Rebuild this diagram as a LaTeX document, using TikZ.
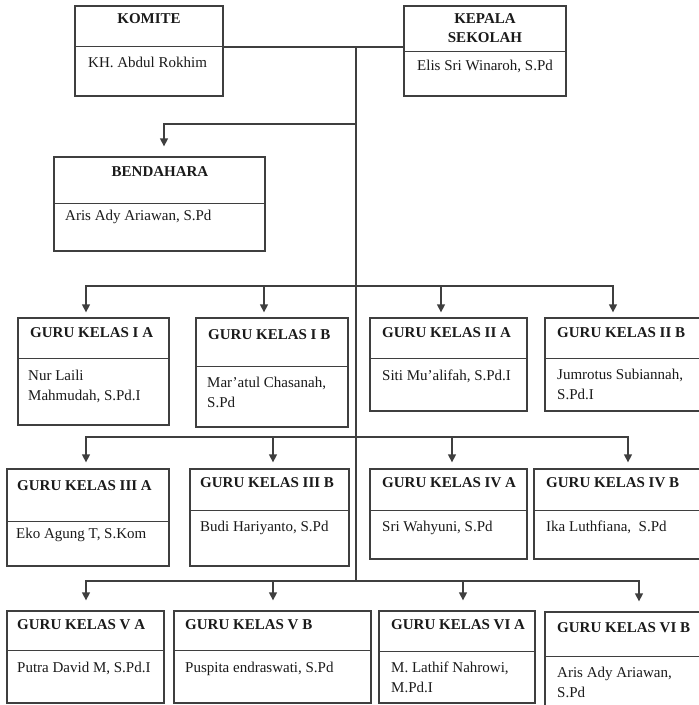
\documentclass[tikz,border=0pt]{standalone}
\usepackage{fontspec}
\setmainfont{Liberation Serif}
\usepackage{tikz}
\usetikzlibrary{arrows.meta,calc,fit,positioning}
\definecolor{orgline}{HTML}{3F3F3F}
\definecolor{orgtext}{HTML}{1A1A1A}

\begin{document}
\begin{tikzpicture}[x=1pt, y=-1pt,
  unit/.style={draw=orgline, line width=1.3pt, inner sep=0pt},
  rule/.style={draw=orgline, line width=1.3pt},
  wire/.style={draw=orgline, line width=1.3pt},
  arrow/.style={wire, -{Triangle[length=8pt,width=8pt]}},
  head/.style={font=\fontsize{15}{19}\selectfont\bfseries, text=orgtext,
               inner sep=0pt},
  who/.style={font=\fontsize{15}{20}\selectfont, text=orgtext, align=left,
              inner sep=0pt, anchor=north west},
]
  \useasboundingbox (0,0) rectangle (699,705);
  \clip (0,0) rectangle (699,705);

  % Leadership.
  \node[unit, fit={(75,6) (223,96)}] (komite) {};
  \draw[rule] ([yshift=-41pt]komite.north west) -- ([yshift=-41pt]komite.north east);
  \node[head, anchor=base] (komitehead) at (149,23) {KOMITE};
  \node[who] (komitename) at (88,57) {KH. Abdul Rokhim};

  \node[unit, fit={(404,6) (566,96)}] (kepala) {};
  \draw[rule] ([yshift=-46pt]kepala.north west) -- ([yshift=-46pt]kepala.north east);
  \node[head, anchor=north, align=center] (kepalahead) at (485,13) {KEPALA\\SEKOLAH};
  \node[who] (kepalaname) at (417,60) {Elis Sri Winaroh, S.Pd};

  \node[unit, fit={(54,157) (265,251)}] (bendahara) {};
  \draw[rule] ([yshift=-47pt]bendahara.north west) -- ([yshift=-47pt]bendahara.north east);
  \node[head, anchor=base] (bendaharahead) at (160,176) {BENDAHARA};
  \node[who] (bendaharaname) at (65,210) {Aris Ady Ariawan, S.Pd};

  \coordinate (hub) at (356,47);
  \coordinate (jb) at (356,124);
  \coordinate (bus1) at (356,286);
  \coordinate (bus2) at (356,437);
  \coordinate (bus3) at (356,581);
  \draw[wire] ([yshift=4pt]komite.east) -- ([yshift=4pt]kepala.west);
  \draw[wire] (hub) -- (bus3);
  \draw[arrow, shorten >=10pt] (jb) -| ([xshift=4.5pt]bendahara.north);

  % Guru kelas I and II.
  \node[unit, fit={(18,318) (169,425)}] (ia) {};
  \draw[rule] ([yshift=-41pt]ia.north west) -- ([yshift=-41pt]ia.north east);
  \node[head, anchor=base west] (iahead) at (30,337) {GURU KELAS I A};
  \node[who] (ianame) at (28,370) {Nur Laili\\Mahmudah, S.Pd.I};

  \node[unit, fit={(196,318) (348,427)}] (ib) {};
  \draw[rule] ([yshift=-49pt]ib.north west) -- ([yshift=-49pt]ib.north east);
  \node[head, anchor=base west] (ibhead) at (208,339) {GURU KELAS I B};
  \node[who] (ibname) at (207,377) {Mar’atul Chasanah,\\S.Pd};

  \node[unit, fit={(370,318) (527,411)}] (iia) {};
  \draw[rule] ([yshift=-41pt]iia.north west) -- ([yshift=-41pt]iia.north east);
  \node[head, anchor=base west] (iiahead) at (382,337) {GURU KELAS II A};
  \node[who] (iianame) at (382,370) {Siti Mu’alifah, S.Pd.I};

  \node[unit, fit={(545,318) (702,411)}] (iib) {};
  \draw[rule] ([yshift=-41pt]iib.north west) -- ([yshift=-41pt]iib.north east);
  \node[head, anchor=base west] (iibhead) at (557,337) {GURU KELAS II B};
  \node[who] (iibname) at (557,369) {Jumrotus Subiannah,\\S.Pd.I};

  \draw[arrow, shorten >=5pt] (bus1) -| ([xshift=-7.5pt]ia.north);
  \draw[arrow, shorten >=5pt] (bus1) -| ([xshift=-8pt]ib.north);
  \draw[arrow, shorten >=5pt] (bus1) -| ([xshift=-7.5pt]iia.north);
  \draw[arrow, shorten >=5pt] (bus1) -| ([xshift=-10.5pt]iib.north);

  % Guru kelas III and IV.
  \node[unit, fit={(7,469) (169,566)}] (iiia) {};
  \draw[rule] ([yshift=-53pt]iiia.north west) -- ([yshift=-53pt]iiia.north east);
  \node[head, anchor=base west] (iiiahead) at (17,490) {GURU KELAS III A};
  \node[who] (iiianame) at (16,528) {Eko Agung T, S.Kom};

  \node[unit, fit={(190,469) (349,566)}] (iiib) {};
  \draw[rule] ([yshift=-42pt]iiib.north west) -- ([yshift=-42pt]iiib.north east);
  \node[head, anchor=base west] (iiibhead) at (200,487) {GURU KELAS III B};
  \node[who] (iiibname) at (200,521) {Budi Hariyanto, S.Pd};

  \node[unit, fit={(370,469) (527,559)}] (iva) {};
  \draw[rule] ([yshift=-42pt]iva.north west) -- ([yshift=-42pt]iva.north east);
  \node[head, anchor=base west] (ivahead) at (382,487) {GURU KELAS IV A};
  \node[who] (ivaname) at (382,521) {Sri Wahyuni, S.Pd};

  \node[unit, fit={(534,469) (702,559)}] (ivb) {};
  \draw[rule] ([yshift=-42pt]ivb.north west) -- ([yshift=-42pt]ivb.north east);
  \node[head, anchor=base west] (ivbhead) at (546,487) {GURU KELAS IV B};
  \node[who] (ivbname) at (546,521) {Ika Luthfiana,~ S.Pd};

  \draw[arrow, shorten >=6pt] (bus2) -| ([xshift=-2pt]iiia.north);
  \draw[arrow, shorten >=6pt] (bus2) -| ([xshift=3.5pt]iiib.north);
  \draw[arrow, shorten >=6pt] (bus2) -| ([xshift=3.5pt]iva.north);
  \draw[arrow, shorten >=6pt] (bus2) -| ([xshift=10pt]ivb.north);

  % Guru kelas V and VI.
  \node[unit, fit={(7,611) (164,703)}] (va) {};
  \draw[rule] ([yshift=-40pt]va.north west) -- ([yshift=-40pt]va.north east);
  \node[head, anchor=base west] (vahead) at (17,629) {GURU KELAS V A};
  \node[who] (vaname) at (17,662) {Putra David M, S.Pd.I};

  \node[unit, fit={(174,611) (371,703)}] (vb) {};
  \draw[rule] ([yshift=-40pt]vb.north west) -- ([yshift=-40pt]vb.north east);
  \node[head, anchor=base west] (vbhead) at (185,629) {GURU KELAS V B};
  \node[who] (vbname) at (185,662) {Puspita endraswati, S.Pd};

  \node[unit, fit={(379,611) (535,703)}] (via) {};
  \draw[rule] ([yshift=-41pt]via.north west) -- ([yshift=-41pt]via.north east);
  \node[head, anchor=base west] (viahead) at (391,629) {GURU KELAS VI A};
  \node[who] (vianame) at (391,662) {M. Lathif Nahrowi,\\M.Pd.I};

  \node[unit, fit={(545,612) (702,712)}] (vib) {};
  \draw[rule] ([yshift=-45pt]vib.north west) -- ([yshift=-45pt]vib.north east);
  \node[head, anchor=base west] (vibhead) at (557,632) {GURU KELAS VI B};
  \node[who] (vibname) at (557,667) {Aris Ady Ariawan,\\S.Pd};

  \draw[arrow, shorten >=10pt] (bus3) -| ([xshift=0.5pt]va.north);
  \draw[arrow, shorten >=10pt] (bus3) -| ([xshift=0.5pt]vb.north);
  \draw[arrow, shorten >=10pt] (bus3) -| ([xshift=6pt]via.north);
  \draw[arrow, shorten >=10pt] (bus3) -| ([xshift=15.5pt]vib.north);

\end{tikzpicture}
\end{document}
